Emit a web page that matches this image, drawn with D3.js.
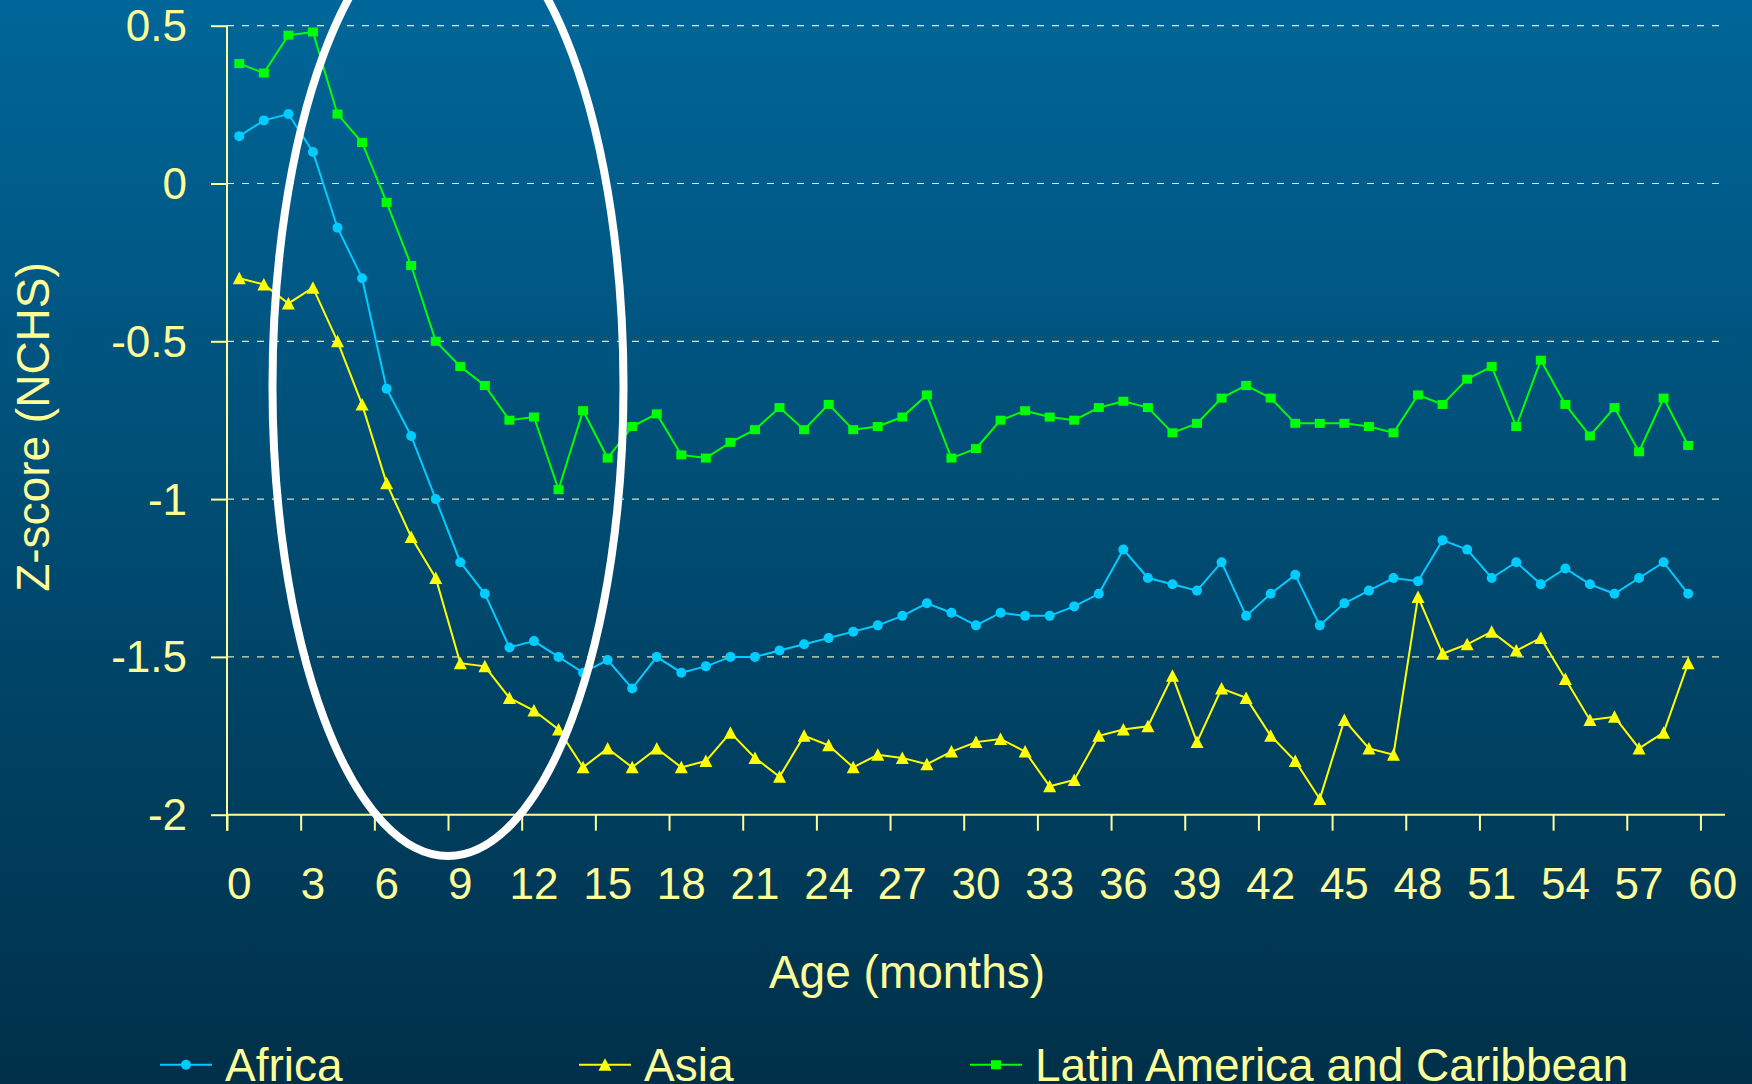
<!DOCTYPE html>
<html>
<head>
<meta charset="utf-8">
<script src="https://cdn.jsdelivr.net/npm/d3@7"></script>
<style>
  html, body { margin: 0; padding: 0; background: #003049; }
  svg { display: block; }
</style>
</head>
<body>
<div id="chart"></div>
<script>
const width = 1752, height = 1084;

// months 0..59, z-scores
const months = d3.range(0, 60);
const africa = [0.15, 0.20, 0.22, 0.10, -0.14, -0.30, -0.65, -0.80, -1.00, -1.20,
  -1.30, -1.47, -1.45, -1.50, -1.55, -1.51, -1.60, -1.50, -1.55, -1.53,
  -1.50, -1.50, -1.48, -1.46, -1.44, -1.42, -1.40, -1.37, -1.33, -1.36,
  -1.40, -1.36, -1.37, -1.37, -1.34, -1.30, -1.16, -1.25, -1.27, -1.29,
  -1.20, -1.37, -1.30, -1.24, -1.40, -1.33, -1.29, -1.25, -1.26, -1.13,
  -1.16, -1.25, -1.20, -1.27, -1.22, -1.27, -1.30, -1.25, -1.20, -1.30];
const asia = [-0.30, -0.32, -0.38, -0.33, -0.50, -0.70, -0.95, -1.12, -1.25, -1.52,
  -1.53, -1.63, -1.67, -1.73, -1.85, -1.79, -1.85, -1.79, -1.85, -1.83,
  -1.74, -1.82, -1.88, -1.75, -1.78, -1.85, -1.81, -1.82, -1.84, -1.80,
  -1.77, -1.76, -1.80, -1.91, -1.89, -1.75, -1.73, -1.72, -1.56, -1.77,
  -1.60, -1.63, -1.75, -1.83, -1.95, -1.70, -1.79, -1.81, -1.31, -1.49,
  -1.46, -1.42, -1.48, -1.44, -1.57, -1.70, -1.69, -1.79, -1.74, -1.52];
const latam = [0.38, 0.35, 0.47, 0.48, 0.22, 0.13, -0.06, -0.26, -0.50, -0.58,
  -0.64, -0.75, -0.74, -0.97, -0.72, -0.87, -0.77, -0.73, -0.86, -0.87,
  -0.82, -0.78, -0.71, -0.78, -0.70, -0.78, -0.77, -0.74, -0.67, -0.87,
  -0.84, -0.75, -0.72, -0.74, -0.75, -0.71, -0.69, -0.71, -0.79, -0.76,
  -0.68, -0.64, -0.68, -0.76, -0.76, -0.76, -0.77, -0.79, -0.67, -0.70,
  -0.62, -0.58, -0.77, -0.56, -0.70, -0.80, -0.71, -0.85, -0.68, -0.83];

const seriesNames = ['Africa', 'Asia', 'Latin America and Caribbean'];
const categories = d3.range(0, 61);          // 0..60 on the axis
const xTickLabels = d3.range(0, 61, 3);
const yTicks = [-2, -1.5, -1, -0.5, 0, 0.5];

const textColor = '#ffff99';
const font = '"Liberation Sans", Arial, sans-serif';

const svg = d3.select('#chart').append('svg')
    .attr('width', width).attr('height', height);

const grad = svg.append('defs').append('linearGradient')
    .attr('id', 'bg').attr('x1', 0).attr('y1', 0).attr('x2', 0).attr('y2', 1);
grad.append('stop').attr('offset', '0%').attr('stop-color', '#006699');
grad.append('stop').attr('offset', '100%').attr('stop-color', '#003049');

svg.append('rect').attr('width', width).attr('height', height).attr('fill', 'url(#bg)');

const plotLeft = 227, plotRight = 1725, plotTop = 25.7, plotBottom = 814.7;

const x = d3.scaleBand().domain(categories).range([plotLeft, plotRight]).padding(0);
const xEdge = d3.scaleLinear().domain([0, categories.length]).range([plotLeft, plotRight]);
const y = d3.scaleLinear().domain([-2, 0.5]).range([plotBottom, plotTop]);

// dashed gridlines
svg.append('g')
  .selectAll('line')
  .data(yTicks.filter(d => d > -2))
  .enter().append('line')
    .attr('x1', plotLeft).attr('x2', plotRight)
    .attr('y1', d => y(d)).attr('y2', d => y(d))
    .attr('stroke', '#ffffcc').attr('stroke-opacity', 0.85)
    .attr('stroke-width', 1.2)
    .attr('stroke-dasharray', '7,8');

// y axis (plain hyphen for negatives, as in the original)
const yAxis = svg.append('g')
    .attr('transform', `translate(${plotLeft},0)`)
    .call(d3.axisLeft(y).tickValues(yTicks).tickSize(16).tickPadding(24).tickFormat(d => String(d)));
yAxis.select('.domain').remove();
yAxis.selectAll('.tick line').attr('stroke', textColor).attr('stroke-width', 2);
yAxis.selectAll('.tick text')
    .attr('fill', textColor).attr('font-family', font).attr('font-size', 44).attr('dy', '0.34em');
svg.append('line')
    .attr('x1', plotLeft).attr('x2', plotLeft).attr('y1', plotTop).attr('y2', plotBottom + 16)
    .attr('stroke', textColor).attr('stroke-width', 2);

// x axis: boundary ticks every 3 categories, labels at category centres
const xTicks = svg.append('g')
    .attr('transform', `translate(0,${plotBottom})`)
    .call(d3.axisBottom(xEdge).tickValues(xTickLabels).tickSize(16).tickFormat(''));
xTicks.select('.domain').remove();
xTicks.selectAll('.tick line').attr('stroke', textColor).attr('stroke-width', 2);
svg.append('line')
    .attr('x1', plotLeft).attr('x2', plotRight).attr('y1', plotBottom).attr('y2', plotBottom)
    .attr('stroke', textColor).attr('stroke-width', 2);

const xLabels = svg.append('g')
    .attr('transform', `translate(0,${plotBottom})`)
    .call(d3.axisBottom(x).tickValues(xTickLabels).tickSize(0));
xLabels.select('.domain').remove();
xLabels.selectAll('.tick text')
    .attr('fill', textColor).attr('font-family', font).attr('font-size', 44)
    .attr('y', 84).attr('dy', 0);

// axis titles
svg.append('text')
    .attr('x', 907).attr('y', 988)
    .attr('text-anchor', 'middle')
    .attr('fill', textColor).attr('font-family', font).attr('font-size', 46)
    .text('Age (months)');
svg.append('text')
    .attr('transform', 'translate(49,427) rotate(-90)')
    .attr('text-anchor', 'middle')
    .attr('fill', textColor).attr('font-family', font).attr('font-size', 46)
    .text('Z-score (NCHS)');

// series
const series = [
  {name: seriesNames[0], values: africa, color: '#00ccff', marker: 'circle'},
  {name: seriesNames[1], values: asia, color: '#ffff00', marker: 'triangle'},
  {name: seriesNames[2], values: latam, color: '#00ff00', marker: 'square'}
];

const line = d3.line()
    .x(d => x(d.m) + x.bandwidth() / 2)
    .y(d => y(d.v));

function drawMarker(sel, type, color) {
  if (type === 'circle') {
    sel.append('circle').attr('r', 5).attr('fill', color);
  } else if (type === 'square') {
    sel.append('rect').attr('x', -5).attr('y', -4.5).attr('width', 10).attr('height', 9).attr('fill', color);
  } else {
    sel.append('path').attr('d', 'M0,-6.5L6.5,6L-6.5,6Z').attr('fill', color);
  }
}

series.forEach(s => {
  const pts = months.map((m, i) => ({m: m, v: s.values[i]}));
  svg.append('path')
      .datum(pts)
      .attr('d', line)
      .attr('fill', 'none')
      .attr('stroke', s.color)
      .attr('stroke-width', 2);
  const g = svg.append('g').selectAll('g')
      .data(pts)
      .enter().append('g')
      .attr('transform', d => `translate(${x(d.m) + x.bandwidth() / 2},${y(d.v)})`);
  drawMarker(g, s.marker, s.color);
});

// white ellipse annotation
svg.append('ellipse')
    .attr('cx', 448).attr('cy', 386).attr('rx', 175.5).attr('ry', 470)
    .attr('fill', 'none').attr('stroke', '#ffffff').attr('stroke-width', 8);

// legend
const legendX = [160, 579, 970];
const legendY = 1064.7;
const legend = svg.append('g').selectAll('g')
    .data(series)
    .enter().append('g')
    .attr('transform', (d, i) => `translate(${legendX[i]},${legendY})`);
legend.append('line')
    .attr('x1', 0).attr('x2', 52).attr('y1', 0).attr('y2', 0)
    .attr('stroke', d => d.color).attr('stroke-width', 2);
legend.each(function(d) {
  drawMarker(d3.select(this).append('g').attr('transform', 'translate(26,0)'), d.marker, d.color);
});
legend.append('text')
    .attr('x', 65).attr('y', 16.5)
    .attr('fill', textColor).attr('font-family', font).attr('font-size', 46)
    .text(d => d.name);
</script>
</body>
</html>
